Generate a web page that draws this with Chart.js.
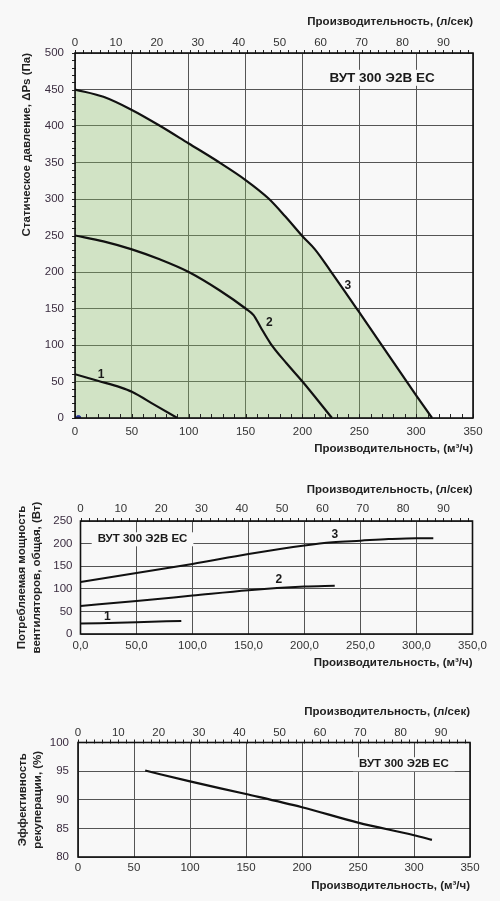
<!DOCTYPE html>
<html><head><meta charset="utf-8">
<script src="https://cdn.jsdelivr.net/npm/chart.js@4"></script>
<style>
html,body{margin:0;padding:0;background:#f8f8f8;}
#wrap{position:relative;width:500px;height:901px;overflow:hidden;}
canvas{position:absolute;left:0;}
</style></head><body>
<div id="wrap">
<canvas id="c1" width="500" height="470" style="top:0px"></canvas>
<canvas id="c2" width="500" height="205" style="top:475px"></canvas>
<canvas id="c3" width="500" height="211" style="top:690px"></canvas>
</div>
<script>
// ---------- DATA ----------
const modelName = 'ВУТ 300 Э2В ЕС';
const flowTitleLs = 'Производительность, (л/сек)';
const flowTitleM3h = 'Производительность, (м³/ч)';

// Chart 1: static pressure (Pa) vs flow (m3/h)
const pCurve1X = [0, 20, 40, 50, 70, 90];
const pCurve1Y = [60, 51, 42, 36, 18, 0];
const pCurve2X = [0, 25, 50, 75, 100, 127, 150, 157, 163, 172, 186, 200, 226];
const pCurve2Y = [250, 242, 231, 217, 200, 175, 150, 141, 125, 102, 75, 50, 0];
const pCurve3X = [0, 25, 50, 75, 100, 125, 150, 170, 185, 200, 211, 224, 249, 275, 300, 314];
const pCurve3Y = [450, 440, 422, 400, 376, 352, 326, 301, 276, 249, 231, 203, 147, 88, 31, 0];
const pMarkerX = [3];
const pMarkerY = [0];
const pCurveLabels = ['1', '2', '3'];
const pLabelX = [23, 171, 240];
const pLabelY = [60, 131, 181];

// Chart 2: power (W) vs flow (m3/h)
const wCurve1X = [0, 50, 90];
const wCurve1Y = [23, 26, 29];
const wCurve2X = [0, 50, 100, 150, 200, 227];
const wCurve2Y = [62, 73, 85, 97, 105, 107];
const wCurve3X = [0, 50, 100, 150, 200, 225, 250, 275, 300, 315];
const wCurve3Y = [115, 135, 155, 177, 196, 203, 206.5, 210, 212, 212];
const wLabelX = [24, 177, 227];
const wLabelY = [38, 120, 219];

// Chart 3: heat recovery efficiency (%) vs flow (m3/h)
const eCurveX = [60, 100, 150, 200, 250, 300, 316];
const eCurveY = [95.1, 93.2, 91, 88.7, 86, 83.8, 83];

const m3hPerLs = 3.6;
const BG = '#f8f8f8';
const FONT = '"Liberation Sans", Arial, Helvetica, sans-serif';
Chart.defaults.font.family = FONT;

function pts(xs, ys) { return xs.map((x, i) => ({x: x, y: ys[i]})); }

// ---------- PLUGIN: frame, minor ticks, text labels ----------
const decor = {
  id: 'decor',
  afterDatasetsDraw(chart, args, opts) {
    const ctx = chart.ctx, a = chart.chartArea;
    const xs = chart.scales.x, ys = chart.scales.y;
    ctx.save();
    (opts.labels || []).forEach(l => {
      const px = xs.getPixelForValue(l.x), py = ys.getPixelForValue(l.y);
      ctx.font = 'bold ' + l.size + 'px ' + FONT;
      ctx.textAlign = 'center'; ctx.textBaseline = 'middle';
      if (l.box) {
        const w = ctx.measureText(l.text).width + 2 * l.padX;
        ctx.fillStyle = BG;
        ctx.fillRect(px - w / 2, py - l.boxH / 2, w, l.boxH);
      }
      ctx.fillStyle = '#1a1a1a';
      ctx.fillText(l.text, px, py);
    });
    ctx.strokeStyle = '#222'; ctx.lineWidth = 1;
    (opts.minor || []).forEach(m => {
      const sc = chart.scales[m.id];
      for (let v = sc.min; v <= sc.max + 1e-9; v += m.step) {
        const p = Math.round(sc.getPixelForValue(v)) + 0.5;
        ctx.beginPath();
        if (m.side === 'top') { ctx.moveTo(p, a.top - m.out); ctx.lineTo(p, a.top + m.inn); }
        else if (m.side === 'bottom') { ctx.moveTo(p, a.bottom + m.out); ctx.lineTo(p, a.bottom - m.inn); }
        else { ctx.moveTo(a.left - m.out, p); ctx.lineTo(a.left + m.inn, p); }
        ctx.stroke();
      }
    });
    ctx.strokeStyle = '#111'; ctx.lineWidth = 1.6;
    ctx.strokeRect(a.left, a.top, a.right - a.left, a.bottom - a.top);
    ctx.restore();
  }
};

function lineDs(data, width, extra) {
  return Object.assign({
    data: data, borderColor: '#111', borderWidth: width, pointRadius: 0,
    fill: false, cubicInterpolationMode: 'monotone', tension: 0.4
  }, extra || {});
}

function makeChart(id, cfg) {
  const tickFont = {size: 11.5, family: FONT};
  const titleFont = {size: 11.5, weight: 'bold', family: FONT, lineHeight: '15px'};
  return new Chart(document.getElementById(id), {
    type: 'line',
    data: {datasets: cfg.datasets},
    options: {
      responsive: false, animation: false, events: [],
      layout: {padding: {left: 0, right: cfg.padRight, top: 0, bottom: 0}},
      plugins: {legend: {display: false}, tooltip: {enabled: false}, decor: cfg.decor},
      scales: {
        x: {
          type: 'linear', position: 'bottom', min: 0, max: 350,
          afterFit: s => { s.height = cfg.bottomH; },
          grid: {color: '#555', lineWidth: 1, drawTicks: false},
          border: {display: false},
          ticks: {stepSize: 50, padding: cfg.xTickPad, color: '#333', font: tickFont,
                  maxRotation: 0, callback: cfg.xFmt || (v => String(v))},
          title: {display: true, text: flowTitleM3h, align: 'end', color: '#222',
                  font: titleFont, padding: {top: 0, bottom: cfg.xTitlePad}}
        },
        x2: {
          type: 'linear', position: 'top', min: 0, max: 350 / m3hPerLs,
          afterFit: s => { s.height = cfg.topH; },
          grid: {display: false, drawTicks: false},
          border: {display: false},
          ticks: {stepSize: 10, includeBounds: false, padding: cfg.x2TickPad, color: '#333',
                  font: tickFont, maxRotation: 0, callback: v => String(Math.round(v))},
          title: {display: true, text: flowTitleLs, align: 'end', color: '#222',
                  font: titleFont, padding: {top: cfg.x2TitlePad, bottom: 0}}
        },
        y: {
          type: 'linear', position: 'left', min: cfg.yMin, max: cfg.yMax,
          afterFit: s => { s.width = cfg.leftW; },
          grid: {color: '#555', lineWidth: 1, drawTicks: false},
          border: {display: false},
          ticks: {stepSize: cfg.yStep, padding: cfg.yTickPad, color: '#3b2d40', font: tickFont},
          title: {display: true, text: cfg.yTitle, align: cfg.yTitleAlign, color: '#222',
                  font: titleFont, padding: {top: cfg.yTitlePad, bottom: 0}}
        }
      }
    },
    plugins: [decor]
  });
}

// ---------- CHART 1 ----------
makeChart('c1', {
  padRight: 27, topH: 53, bottomH: 52, leftW: 75,
  xTickPad: 7, x2TickPad: 3.5, xTitlePad: 14, x2TitlePad: 14, yTickPad: 11,
  yMin: 0, yMax: 500, yStep: 50,
  yTitle: 'Статическое давление, ΔPs (Па)', yTitleAlign: 'end', yTitlePad: 19,
  datasets: [
    {type: 'scatter', data: pts(pMarkerX, pMarkerY), pointRadius: 2.5,
     backgroundColor: '#2a3596', borderColor: '#2a3596', showLine: false},
    lineDs(pts(pCurve1X, pCurve1Y), 2.2),
    lineDs(pts(pCurve2X, pCurve2Y), 2.2),
    lineDs(pts(pCurve3X, pCurve3Y), 2.2, {fill: 'origin', backgroundColor: 'rgba(135,189,101,0.34)'})
  ],
  decor: {
    labels: pCurveLabels.map((t, i) => ({text: t, x: pLabelX[i], y: pLabelY[i], size: 12}))
      .concat([{text: modelName, x: 270, y: 466, size: 13.5, box: true, padX: 5, boxH: 16}]),
    minor: [
      {id: 'x2', step: 2, side: 'top', out: 3, inn: 1},
      {id: 'y', step: 10, side: 'left', out: 3, inn: 1},
      {id: 'x', step: 10, side: 'bottom', out: 0, inn: 4}
    ]
  }
});

// ---------- CHART 2 ----------
makeChart('c2', {
  padRight: 27.5, topH: 46, bottomH: 46, leftW: 80.5,
  xTickPad: 5, x2TickPad: 5, xTitlePad: 10, x2TitlePad: 7, yTickPad: 8,
  yMin: 0, yMax: 250, yStep: 50,
  yTitle: ['Потребляемая мощность', 'вентиляторов, общая, (Вт)'], yTitleAlign: 'center', yTitlePad: 14.2,
  xFmt: v => Number(v).toFixed(1).replace('.', ','),
  datasets: [
    lineDs(pts(wCurve1X, wCurve1Y), 2),
    lineDs(pts(wCurve2X, wCurve2Y), 2),
    lineDs(pts(wCurve3X, wCurve3Y), 2)
  ],
  decor: {
    labels: pCurveLabels.map((t, i) => ({text: t, x: wLabelX[i], y: wLabelY[i], size: 12}))
      .concat([{text: modelName, x: 55.4, y: 209.5, size: 11.5, box: true, padX: 6, boxH: 14}]),
    minor: [{id: 'x2', step: 2, side: 'top', out: 3, inn: 1}]
  }
});

// ---------- CHART 3 ----------
makeChart('c3', {
  padRight: 30, topH: 52.5, bottomH: 44, leftW: 78,
  xTickPad: 3.5, x2TickPad: 3.2, xTitlePad: 7.5, x2TitlePad: 14, yTickPad: 9,
  yMin: 80, yMax: 100, yStep: 5,
  yTitle: ['Эффективность', 'рекуперации, (%)'], yTitleAlign: 'center', yTitlePad: 15.8,
  datasets: [
    lineDs(pts(eCurveX, eCurveY), 2.2)
  ],
  decor: {
    labels: [{text: modelName, x: 291, y: 96.2, size: 11.5, box: true, padX: 6, boxH: 14}],
    minor: [{id: 'x2', step: 2, side: 'top', out: 3, inn: 1}]
  }
});
</script>
</body></html>
